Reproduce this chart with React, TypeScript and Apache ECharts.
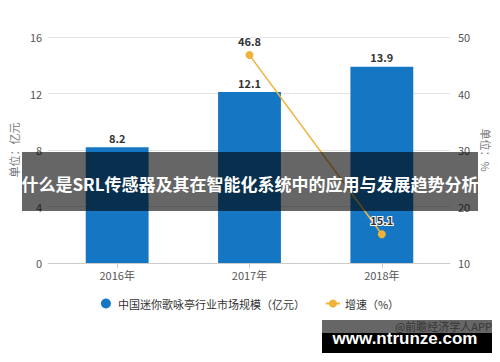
import React, { useEffect, useRef } from "react";
import * as echarts from "echarts";

const categories = ["2016年", "2017年", "2018年"];
const marketSize = [8.2, 12.1, 13.9];
const growthRate: (number | null)[] = [null, 46.8, 15.1];
const leftAxis = { min: 0, max: 16, interval: 4 };
const rightAxis = { min: 10, max: 50, interval: 10 };
const seriesNames = ["中国迷你歌咏亭行业市场规模（亿元）", "增速（%）"];
const bannerTitle = "什么是SRL传感器及其在智能化系统中的应用与发展趋势分析";

const FONT = '"Noto Sans CJK SC", "Noto Sans", sans-serif';

export default function App() {
  const ref = useRef<HTMLDivElement>(null);
  useEffect(() => {
    document.body.style.margin = "0";
    if (!ref.current) return;
    const chart = echarts.init(ref.current, null, { renderer: "svg" });
    const gridCommon = { top: 37, bottom: 99, containLabel: false };
    chart.setOption({
      animation: false,
      backgroundColor: "#fff",
      textStyle: { fontFamily: FONT },
      grid: [
        { ...gridCommon, left: 42, right: 47 },
        { ...gridCommon, left: 51, right: 52 },
      ],
      legend: {
        top: 293,
        left: "center",
        itemGap: 20,
        itemWidth: 14,
        itemHeight: 10,
        textStyle: { color: "#333", fontSize: 11, fontFamily: FONT },
        data: [
          { name: seriesNames[0], icon: "circle" },
          { name: seriesNames[1] },
        ],
      },
      xAxis: [
        {
          type: "category",
          gridIndex: 0,
          data: categories,
          axisLine: { show: true, lineStyle: { color: "#ccc" } },
          axisTick: { show: false },
          axisLabel: { show: false },
        },
        {
          type: "category",
          gridIndex: 1,
          data: categories,
          axisLine: { show: false },
          axisTick: { show: true, alignWithLabel: true, length: 5, lineStyle: { color: "#ccc" } },
          axisLabel: { color: "#555", fontSize: 11, margin: 6 },
        },
      ],
      yAxis: [
        {
          type: "value",
          gridIndex: 0,
          position: "left",
          ...leftAxis,
          name: "单位：亿元",
          nameLocation: "middle",
          nameRotate: 90,
          nameGap: 29,
          nameTextStyle: { color: "#777", fontSize: 11 },
          axisLine: { show: false },
          axisTick: { show: false },
          axisLabel: { color: "#555", fontSize: 11, margin: 6 },
          splitLine: { lineStyle: { color: "#e3e3e3" } },
        },
        {
          type: "value",
          gridIndex: 0,
          position: "right",
          ...rightAxis,
          name: "单位：%",
          nameLocation: "middle",
          nameRotate: -90,
          nameGap: 30,
          nameTextStyle: { color: "#777", fontSize: 11 },
          axisLine: { show: false },
          axisTick: { show: false },
          axisLabel: { color: "#555", fontSize: 11, margin: 8 },
          splitLine: { show: false },
        },
        {
          type: "value",
          gridIndex: 1,
          ...leftAxis,
          show: false,
          splitLine: { show: false },
        },
        {
          type: "value",
          gridIndex: 1,
          ...rightAxis,
          show: false,
          splitLine: { show: false },
        },
      ],
      series: [
        {
          name: seriesNames[0],
          type: "bar",
          xAxisIndex: 1,
          yAxisIndex: 2,
          data: marketSize,
          barWidth: "47.5%",
          itemStyle: { color: "#1577c4" },
          label: {
            show: true,
            position: "top",
            distance: 4,
            color: "#333",
            fontWeight: "bold",
            fontSize: 11,
          },
        },
        {
          name: seriesNames[1],
          type: "line",
          xAxisIndex: 1,
          yAxisIndex: 3,
          data: growthRate,
          symbol: "circle",
          symbolSize: 8,
          lineStyle: { color: "#efb33a", width: 1.5 },
          itemStyle: { color: "#efb33a" },
          label: {
            show: true,
            position: "top",
            distance: 5,
            color: "#333",
            fontWeight: "bold",
            fontSize: 11,
            textBorderColor: "#fff",
            textBorderWidth: 2,
          },
          z: 5,
        },
      ],
      graphic: [
        {
          type: "rect",
          z: 100,
          shape: { x: 22, y: 152, width: 456, height: 59 },
          style: { fill: "rgba(0,0,0,0.6)" },
        },
        {
          type: "text",
          z: 101,
          x: 250,
          y: 183,
          style: {
            text: bannerTitle,
            fill: "#fff",
            fontSize: 17,
            fontWeight: "bold",
            fontFamily: FONT,
            align: "center",
            verticalAlign: "middle",
          },
        },
        {
          type: "text",
          z: 99,
          x: 492,
          y: 326,
          style: {
            text: "@前瞻经济学人APP",
            fill: "#888",
            fontSize: 11,
            fontFamily: FONT,
            align: "right",
            verticalAlign: "middle",
          },
        },
        {
          type: "rect",
          z: 100,
          shape: { x: 322, y: 320, width: 170, height: 33 },
          style: { fill: "rgba(0,0,0,0.6)" },
        },
        {
          type: "rect",
          z: 100,
          shape: { x: 322, y: 333, width: 170, height: 20 },
          style: { fill: "#000" },
        },
        {
          type: "text",
          z: 101,
          x: 405,
          y: 338,
          style: {
            text: "www.ntrunze.com",
            fill: "#fff",
            fontSize: 17,
            fontWeight: "bold",
            fontFamily: '"Liberation Sans", Arial, sans-serif',
            align: "center",
            verticalAlign: "middle",
          },
        },
      ],
    });
    return () => chart.dispose();
  }, []);
  return <div ref={ref} style={{ width: 500, height: 362 }} />;
}
